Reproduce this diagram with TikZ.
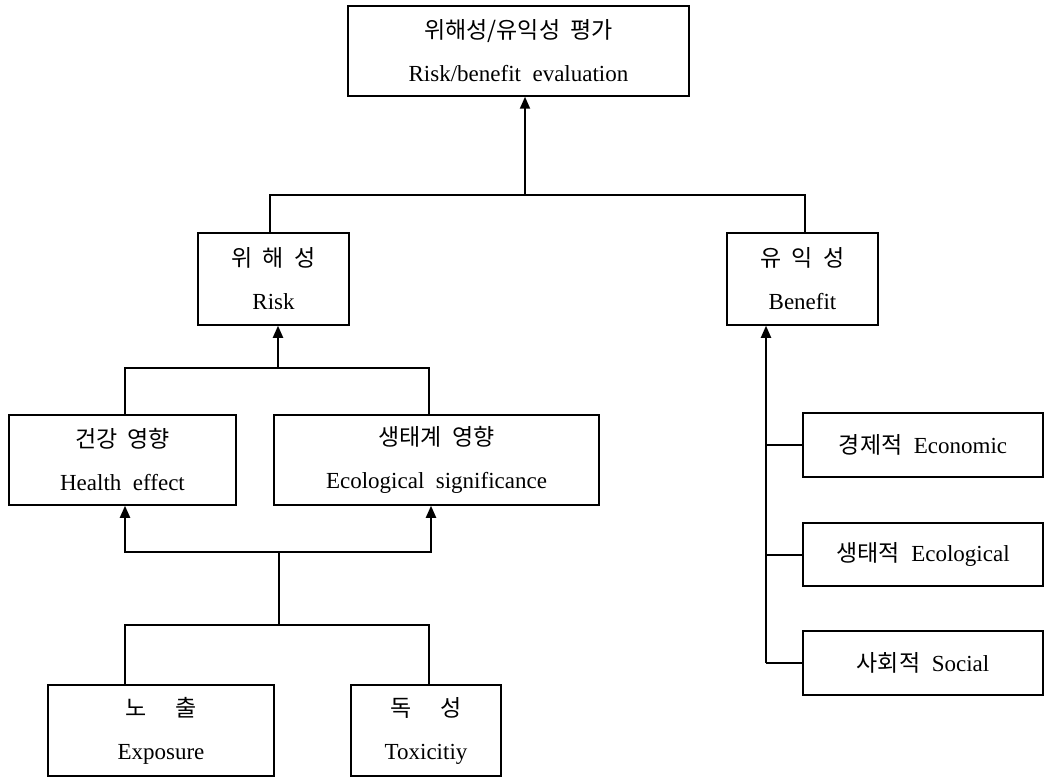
\documentclass[tikz,border=0pt]{standalone}
\usepackage{fontspec}
\setmainfont{Liberation Serif}
\newfontfamily\kr[Scale=1.0]{Noto Sans CJK KR}
\usetikzlibrary{arrows.meta}
\begin{document}
\begin{tikzpicture}[x=1pt,y=-1pt,
  box/.style={draw, line width=1.5pt, inner sep=0pt, align=center,
    font=\fontsize{23}{43}\selectfont},
  wire/.style={line width=2pt},
  arr/.style={wire, -{Triangle[length=12pt,width=10pt]}}]
\useasboundingbox (0,0) rectangle (1046,778);
% boxes
\node[box, minimum width=341pt, minimum height=90pt] (top) at (518.5,51)
  {{\kr 위해성/유익성\ \ 평가}\\Risk/benefit\ \ evaluation};
\node[box, minimum width=151pt, minimum height=92pt] (risk) at (273.5,279)
  {{\kr 위\ \ 해\ \ 성}\\Risk};
\node[box, minimum width=151pt, minimum height=92pt] (benefit) at (802.5,279)
  {{\kr 유\ \ 익\ \ 성}\\Benefit};
\node[box, minimum width=227pt, minimum height=90pt] (health) at (122.5,460)
  {{\kr 건강\ \ 영향}\\Health\ \ effect};
\node[box, minimum width=325pt, minimum height=90pt] (eco) at (436.5,460)
  {{\kr 생태계\ \ 영향}\\Ecological\ \ significance};
\node[box, minimum width=226pt, minimum height=91pt] (expo) at (161,730.5)
  {{\kr 노\quad\ 출}\\Exposure};
\node[box, minimum width=150pt, minimum height=91pt] (tox) at (426,730.5)
  {{\kr 독\quad\ 성}\\Toxicitiy};
\node[box, minimum width=240pt, minimum height=64pt] (econ) at (923,445)
  {{\kr 경제적}\ \ Economic};
\node[box, minimum width=240pt, minimum height=63pt] (ecol) at (923,554.5)
  {{\kr 생태적}\ \ Ecological};
\node[box, minimum width=240pt, minimum height=64pt] (social) at (923,663)
  {{\kr 사회적}\ \ Social};
% junction coordinates
\coordinate (j1) at (525,195);
\coordinate (j1L) at (270,195);
\coordinate (j1R) at (805,195);
\coordinate (j2) at (278,368);
\coordinate (j2L) at (125,368);
\coordinate (j2R) at (429,368);
\coordinate (j3L) at (125,552);
\coordinate (j3M) at (279,552);
\coordinate (j3R) at (431,552);
\coordinate (j4M) at (279,625);
\coordinate (j4L) at (125,625);
\coordinate (j4R) at (429,625);
\coordinate (bv) at (766,600);
% top level
\draw[wire] (j1L |- risk.north) -- (j1L) -- (j1R) -- (j1R |- benefit.north);
\draw[arr] (j1) -- (j1 |- top.south);
% risk level
\draw[wire] (j2L |- health.north) -- (j2L) -- (j2R) -- (j2R |- eco.north);
\draw[arr] (j2) -- (j2 |- risk.south);
% effects level
\draw[arr] (j3M) -- (j3L) -- (j3L |- health.south);
\draw[arr] (j3M) -- (j3R) -- (j3R |- eco.south);
\draw[wire] (j3M) -- (j4M);
\draw[wire] (j4L |- expo.north) -- (j4L) -- (j4R) -- (j4R |- tox.north);
% benefit side
\draw[arr] (bv |- social.west) -- (bv |- benefit.south);
\draw[wire] (bv |- econ.west) -- (econ.west);
\draw[wire] (bv |- ecol.west) -- (ecol.west);
\draw[wire] (bv |- social.west) -- (social.west);
\end{tikzpicture}
\end{document}
